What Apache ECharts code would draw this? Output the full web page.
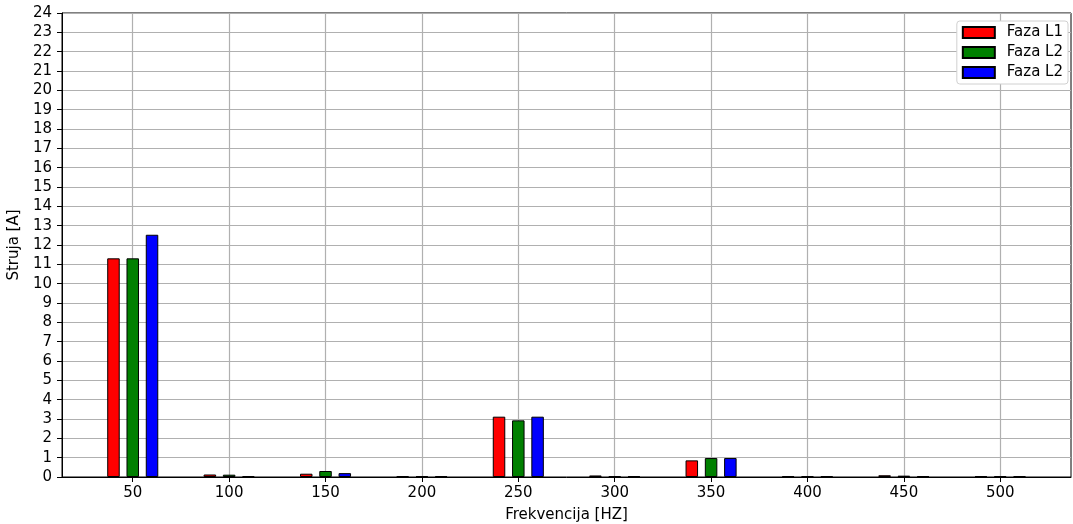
<!DOCTYPE html>
<html>
<head>
<meta charset="utf-8">
<script src="https://cdn.jsdelivr.net/npm/echarts@6/dist/echarts.min.js"></script>
<style>
  html, body { margin: 0; padding: 0; background: #fff; }
  #chart { width: 1073px; height: 524px; }
</style>
</head>
<body>
<div id="chart"></div>
<script>
// Harmonic frequencies (Hz) and measured current per phase (A)
const frequencies = [50, 100, 150, 200, 250, 300, 350, 400, 450, 500];
const phaseL1 = [11.31, 0.13, 0.17, 0.04, 3.12, 0.08, 0.86, 0.04, 0.09, 0.04];
const phaseL2 = [11.31, 0.12, 0.31, 0.04, 2.93, 0.04, 0.98, 0.04, 0.07, 0.04];
const phaseL3 = [12.53, 0.05, 0.20, 0.04, 3.12, 0.04, 0.98, 0.04, 0.04, 0.04];
const legendLabels = ['Faza L1', 'Faza L2', 'Faza L2'];
const xTicks = [50, 100, 150, 200, 250, 300, 350, 400, 450, 500];

const font = 'DejaVu Sans';
const colors = ['#ff0000', '#008000', '#0000ff'];
const offsets = [-10, 0, 10];
const phases = [phaseL1, phaseL2, phaseL3];
const keys = ['L1', 'L2', 'L3'];

const series = phases.map((vals, i) => ({
  name: keys[i],
  type: 'bar',
  barWidth: 12.5,
  barGap: '-100%',
  data: frequencies.map((f, j) => [f + offsets[i], vals[j]]),
  itemStyle: { color: colors[i], borderColor: '#000', borderWidth: 1 },
  emphasis: { disabled: true }
}));

const chart = echarts.init(document.getElementById('chart'));
chart.setOption({
  animation: false,
  textStyle: { fontFamily: font },
  grid: {
    left: 62, right: 2, top: 13, bottom: 47,
    outerBoundsMode: 'none',
    containLabel: false,
    show: true, borderColor: '#000', borderWidth: 1
  },
  legend: {
    right: 5, top: 21, orient: 'vertical',
    data: keys,
    formatter: (name) => legendLabels[keys.indexOf(name)],
    itemWidth: 32, itemHeight: 11, itemGap: 5,
    icon: 'rect',
    textStyle: { fontFamily: font, fontSize: 15, color: '#000', padding: [0, 0, 0, 7] },
    backgroundColor: '#fff', borderColor: '#d0d0d0', borderWidth: 1, borderRadius: 3,
    padding: [4, 5, 4, 5]
  },
  xAxis: {
    type: 'value',
    min: 13.3, max: 536.7,
    name: 'Frekvencija [HZ]', nameLocation: 'middle', nameGap: 31,
    nameTextStyle: { fontFamily: font, fontSize: 15, color: '#000' },
    axisLine: { show: true, lineStyle: { color: '#000' } },
    axisTick: { show: true, inside: false, length: 5, customValues: xTicks, lineStyle: { color: '#000' } },
    axisLabel: { customValues: xTicks, fontFamily: font, fontSize: 15, color: '#000', margin: 9 },
    splitLine: { show: true, lineStyle: { color: '#b0b0b0', width: 1.2 } }
  },
  yAxis: {
    type: 'value',
    min: 0, max: 24, interval: 1,
    name: 'Struja [A]', nameLocation: 'middle', nameGap: 24, nameRotate: 90,
    nameTextStyle: { fontFamily: font, fontSize: 15, color: '#000' },
    axisLine: { show: true, lineStyle: { color: '#000' } },
    axisTick: { show: true, length: 5, lineStyle: { color: '#000' } },
    axisLabel: { fontFamily: font, fontSize: 15, color: '#000', margin: 10 },
    splitLine: { show: true, lineStyle: { color: '#b0b0b0', width: 1.2 } }
  },
  series: series
});
</script>
</body>
</html>
